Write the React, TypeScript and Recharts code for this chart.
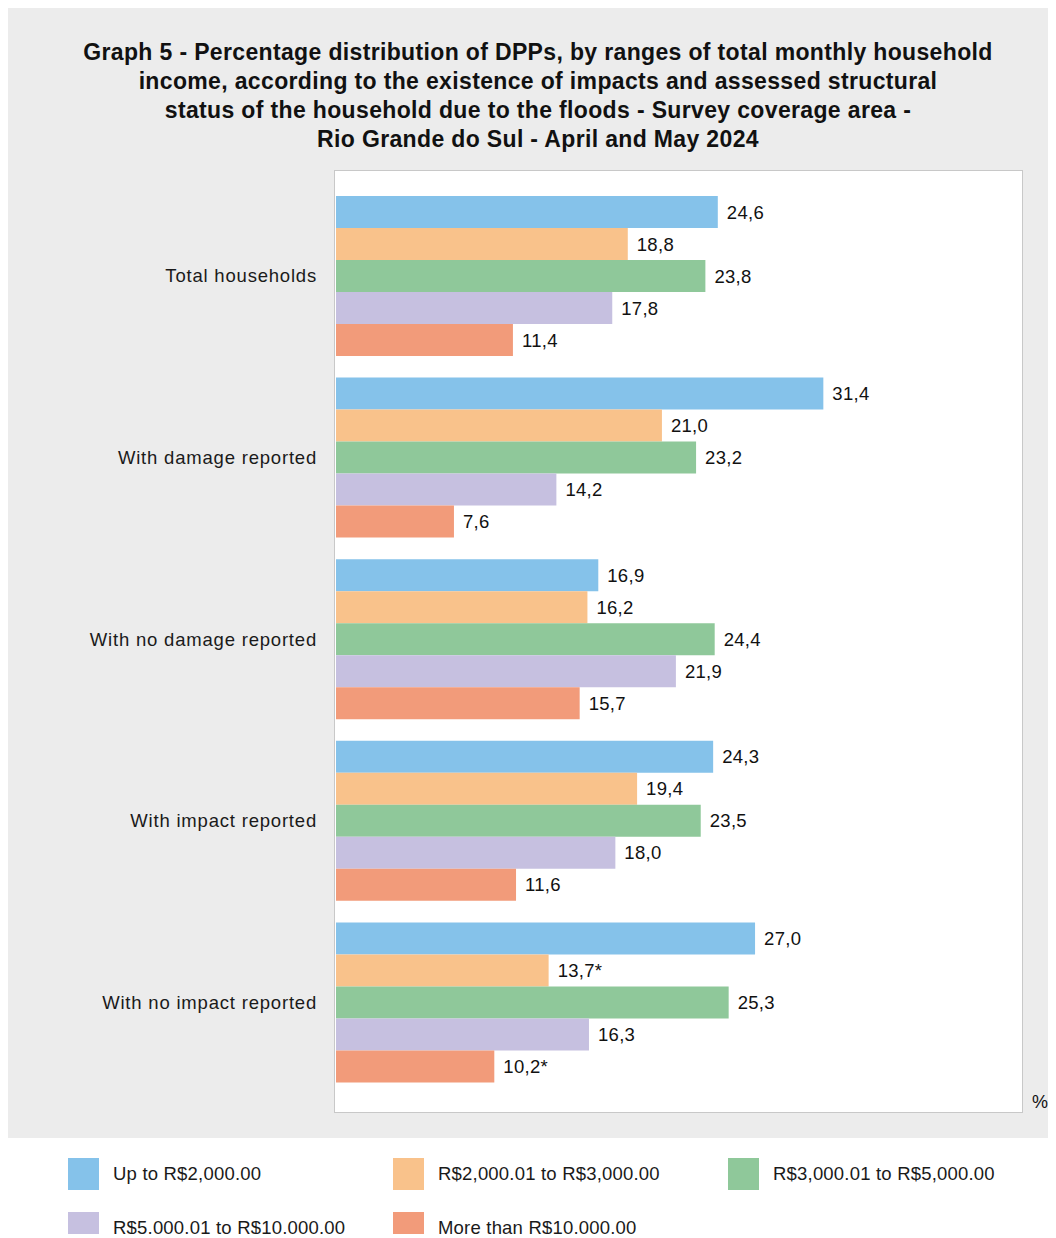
import { BarChart, Bar, XAxis, YAxis, LabelList } from "recharts"

const categories = [
  "Total households",
  "With damage reported",
  "With no damage reported",
  "With impact reported",
  "With no impact reported",
]

const seriesNames = [
  "Up to R$2,000.00",
  "R$2,000.01 to R$3,000.00",
  "R$3,000.01 to R$5,000.00",
  "R$5,000.01 to R$10,000.00",
  "More than R$10,000.00",
]

const seriesColors = ["#85c2ea", "#f9c28b", "#8fc89a", "#c6c0e0", "#f29b7a"]

const upTo2000 = [24.6, 31.4, 16.9, 24.3, 27.0]
const from2000to3000 = [18.8, 21.0, 16.2, 19.4, 13.7]
const from3000to5000 = [23.8, 23.2, 24.4, 23.5, 25.3]
const from5000to10000 = [17.8, 14.2, 21.9, 18.0, 16.3]
const over10000 = [11.4, 7.6, 15.7, 11.6, 10.2]

// estimates flagged with * in the source (category index, series index)
const flagged = [
  [4, 1],
  [4, 4],
]

const titleLines = [
  "Graph 5 - Percentage distribution of DPPs, by ranges of total monthly household",
  "income, according to the existence of impacts and assessed structural",
  "status of the household due to the floods - Survey coverage area -",
  "Rio Grande do Sul - April and May 2024",
]

const allSeries = [upTo2000, from2000to3000, from3000to5000, from5000to10000, over10000]

const data = categories.map((name, i) => {
  const row: Record<string, string | number> = { name }
  allSeries.forEach((values, s) => {
    row[`s${s}`] = values[i]
    const star = flagged.some(([c, k]) => c === i && k === s) ? "*" : ""
    row[`l${s}`] = values[i].toFixed(1).replace(".", ",") + star
  })
  return row
})

const font = "'Liberation Sans', Arial, sans-serif"

export default function App() {
  return (
    <div style={{ position: "relative", width: 1048, height: 1230, marginTop: -4, fontFamily: font }}>
      <style>{"html, body { overflow: hidden; }"}</style>
      <div style={{ position: "absolute", left: 0, top: 0, width: 1048, height: 1134, background: "#ececec" }} />
      <div
        style={{
          position: "absolute",
          left: 0,
          top: 34,
          width: 1060,
          textAlign: "center",
          fontWeight: "bold",
          fontSize: 23,
          letterSpacing: 0.35,
          lineHeight: "29px",
          color: "#111",
        }}
      >
        {titleLines.map((t) => (
          <div key={t}>{t}</div>
        ))}
      </div>
      <div
        style={{
          position: "absolute",
          left: 326,
          top: 166,
          width: 687,
          height: 941,
          background: "#fff",
          border: "1px solid #c8c8c8",
        }}
      />
      <div style={{ position: "absolute", left: 0, top: 0 }}>
        <BarChart
          width={1048}
          height={1134}
          data={data}
          layout="vertical"
          margin={{ top: 167, right: 34, bottom: 26, left: 0 }}
          barCategoryGap={11}
          barGap={0}
        >
          <XAxis type="number" domain={[0, 44.2]} hide />
          <YAxis
            type="category"
            dataKey="name"
            width={328}
            axisLine={false}
            tickLine={false}
            tickSize={0}
            tickMargin={19}
            padding={{ top: 14, bottom: 19 }}
            tick={{ fontSize: 18.5, fill: "#1a1a1a", fontFamily: font, letterSpacing: 0.8 }}
          />
          {seriesNames.map((n, s) => (
            <Bar key={n} dataKey={`s${s}`} name={n} fill={seriesColors[s]} isAnimationActive={false}>
              <LabelList
                dataKey={`l${s}`}
                position="right"
                offset={9}
                fill="#111"
                fontSize={18.5}
                fontFamily={font}
                letterSpacing={0.3}
              />
            </Bar>
          ))}
        </BarChart>
      </div>
      <div style={{ position: "absolute", left: 1024, top: 1088, fontSize: 18, color: "#111" }}>%</div>
      {seriesNames.map((n, s) => {
        const col = s < 3 ? s : s - 3
        const row = s < 3 ? 0 : 1
        const left = [60, 385, 720][col]
        const top = 1154 + row * 54
        return (
          <div
            key={n}
            style={{ position: "absolute", left, top, display: "flex", alignItems: "center", height: 32 }}
          >
            <div style={{ width: 31, height: 32, background: seriesColors[s] }} />
            <span style={{ marginLeft: 14, fontSize: 18.5, letterSpacing: 0.2, color: "#1a1a1a" }}>{n}</span>
          </div>
        )
      })}
    </div>
  )
}
